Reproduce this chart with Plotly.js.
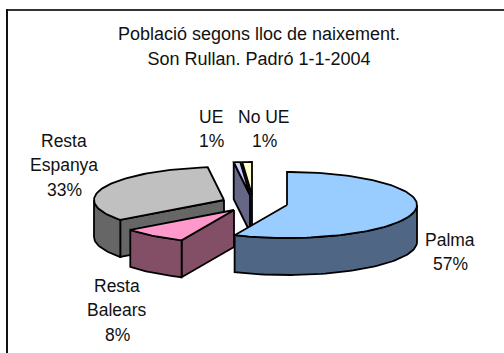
<!DOCTYPE html>
<html><head><meta charset="utf-8">
<script src="https://cdn.plot.ly/plotly-3.0.1.min.js"></script>
<style>html,body{margin:0;padding:0;background:#fff}#c{width:504px;height:353px}</style>
</head><body><div id="c"></div>
<script>
var categories = ['Palma', 'Resta Balears', 'Resta Espanya', 'UE', 'No UE'];
var values = [56.6, 8.1, 33.3, 0.8, 1.2];
var labelLines = [['Palma'], ['Resta', 'Balears'], ['Resta', 'Espanya'], ['UE'], ['No UE']];
var topColors = ['#99CCFF', '#FF99CC', '#C0C0C0', '#CCCCFF', '#FFFFCC'];
var sideColors = ['#4F6785', '#834F66', '#666666', '#666688', '#5C5C78'];
var titleLines = ['Població segons lloc de naixement.', 'Son Rullan. Padró 1-1-2004'];

// layout of the exploded slices, in axis units (the axes span the page 1:1)
var centres = [[287, 205], [234, 210], [224, 200], [250, 195], [252, 195]];
var labelPos = [[450, 240], [117, 286], [64, 141], [211, 117], [264, 117]];
var RX = 130, RY = 33, DEPTH = 37, LH = 24.3;
var drawOrder = [2, 4, 3, 1, 0];

var total = values.reduce(function (a, b) { return a + b; }, 0);
var starts = [], acc = 0;
values.forEach(function (v) { starts.push(acc / total * 2 * Math.PI); acc += v; });

function rim(c, a, dz) { return [c[0] + RX * Math.sin(a), c[1] - RY * Math.cos(a) + (dz || 0)]; }
function arc(c, a0, a1, dz) {
  var pts = [], n = Math.max(2, Math.ceil(Math.abs(a1 - a0) / 0.03));
  for (var i = 0; i <= n; i++) pts.push(rim(c, a0 + (a1 - a0) * i / n, dz));
  return pts;
}
function poly(points, fill, name) {
  return { type: 'scatter', mode: 'lines', x: points.map(function (p) { return p[0]; }).concat(points[0][0]),
    y: points.map(function (p) { return p[1]; }).concat(points[0][1]), fill: 'toself', fillcolor: fill,
    line: { color: '#000', width: 1.8 }, name: name, hoverinfo: 'name', showlegend: false };
}
var traces = [];
drawOrder.forEach(function (i) {
  var c = centres[i], a0 = starts[i], a1 = a0 + values[i] / total * 2 * Math.PI;
  var base = [c[0], c[1] + DEPTH];
  // cut face on the leading edge, visible when it faces the viewer
  if (Math.sin(a0) < 0) {
    var e = rim(c, a0);
    traces.push(poly([c, e, [e[0], e[1] + DEPTH], base], sideColors[i], categories[i]));
  }
  // outer wall: only the front half (angles from 90 to 270 degrees)
  var w0 = Math.max(a0, Math.PI / 2), w1 = Math.min(a1, 3 * Math.PI / 2);
  if (w1 > w0) {
    traces.push(poly(arc(c, w0, w1, 0).concat(arc(c, w1, w0, DEPTH)), sideColors[i], categories[i]));
  }
  // top surface
  traces.push(poly([c].concat(arc(c, a0, a1, 0)), topColors[i], categories[i]));
});

var annotations = [];
labelLines.forEach(function (lines, i) {
  lines.concat(Math.round(values[i]) + '%').forEach(function (t, k) {
    annotations.push({ x: labelPos[i][0], y: labelPos[i][1] + k * LH, xref: 'x', yref: 'y', text: t,
      showarrow: false, xanchor: 'center', yanchor: 'middle', font: { family: 'Liberation Sans, Arial, sans-serif', size: 17.5, color: '#111' } });
  });
});

Plotly.newPlot('c', traces, {
  width: 504, height: 353, margin: { l: 0, r: 0, t: 0, b: 0 },
  paper_bgcolor: '#fff', plot_bgcolor: '#fff', showlegend: false,
  title: { text: titleLines.map(function (t) { return '<span style="font-size:18px">' + t + '</span>'; }).join('<br>'),
    font: { family: 'Liberation Sans, Arial, sans-serif', size: 19, color: '#111' },
    x: 259 / 504, xanchor: 'center', y: 1 - 40 / 353, yanchor: 'top' },
  xaxis: { range: [0, 504], visible: false, fixedrange: true },
  yaxis: { range: [353, 0], visible: false, fixedrange: true },
  annotations: annotations,
  shapes: [
    { type: 'line', xref: 'x', yref: 'y', x0: 6, x1: 504, y0: 10, y1: 10, line: { color: '#333', width: 2 }, layer: 'below' },
    { type: 'line', xref: 'x', yref: 'y', x0: 7, x1: 7, y0: 9, y1: 353, line: { color: '#111', width: 2 }, layer: 'below' }
  ]
}, { displayModeBar: false });
</script></body></html>
